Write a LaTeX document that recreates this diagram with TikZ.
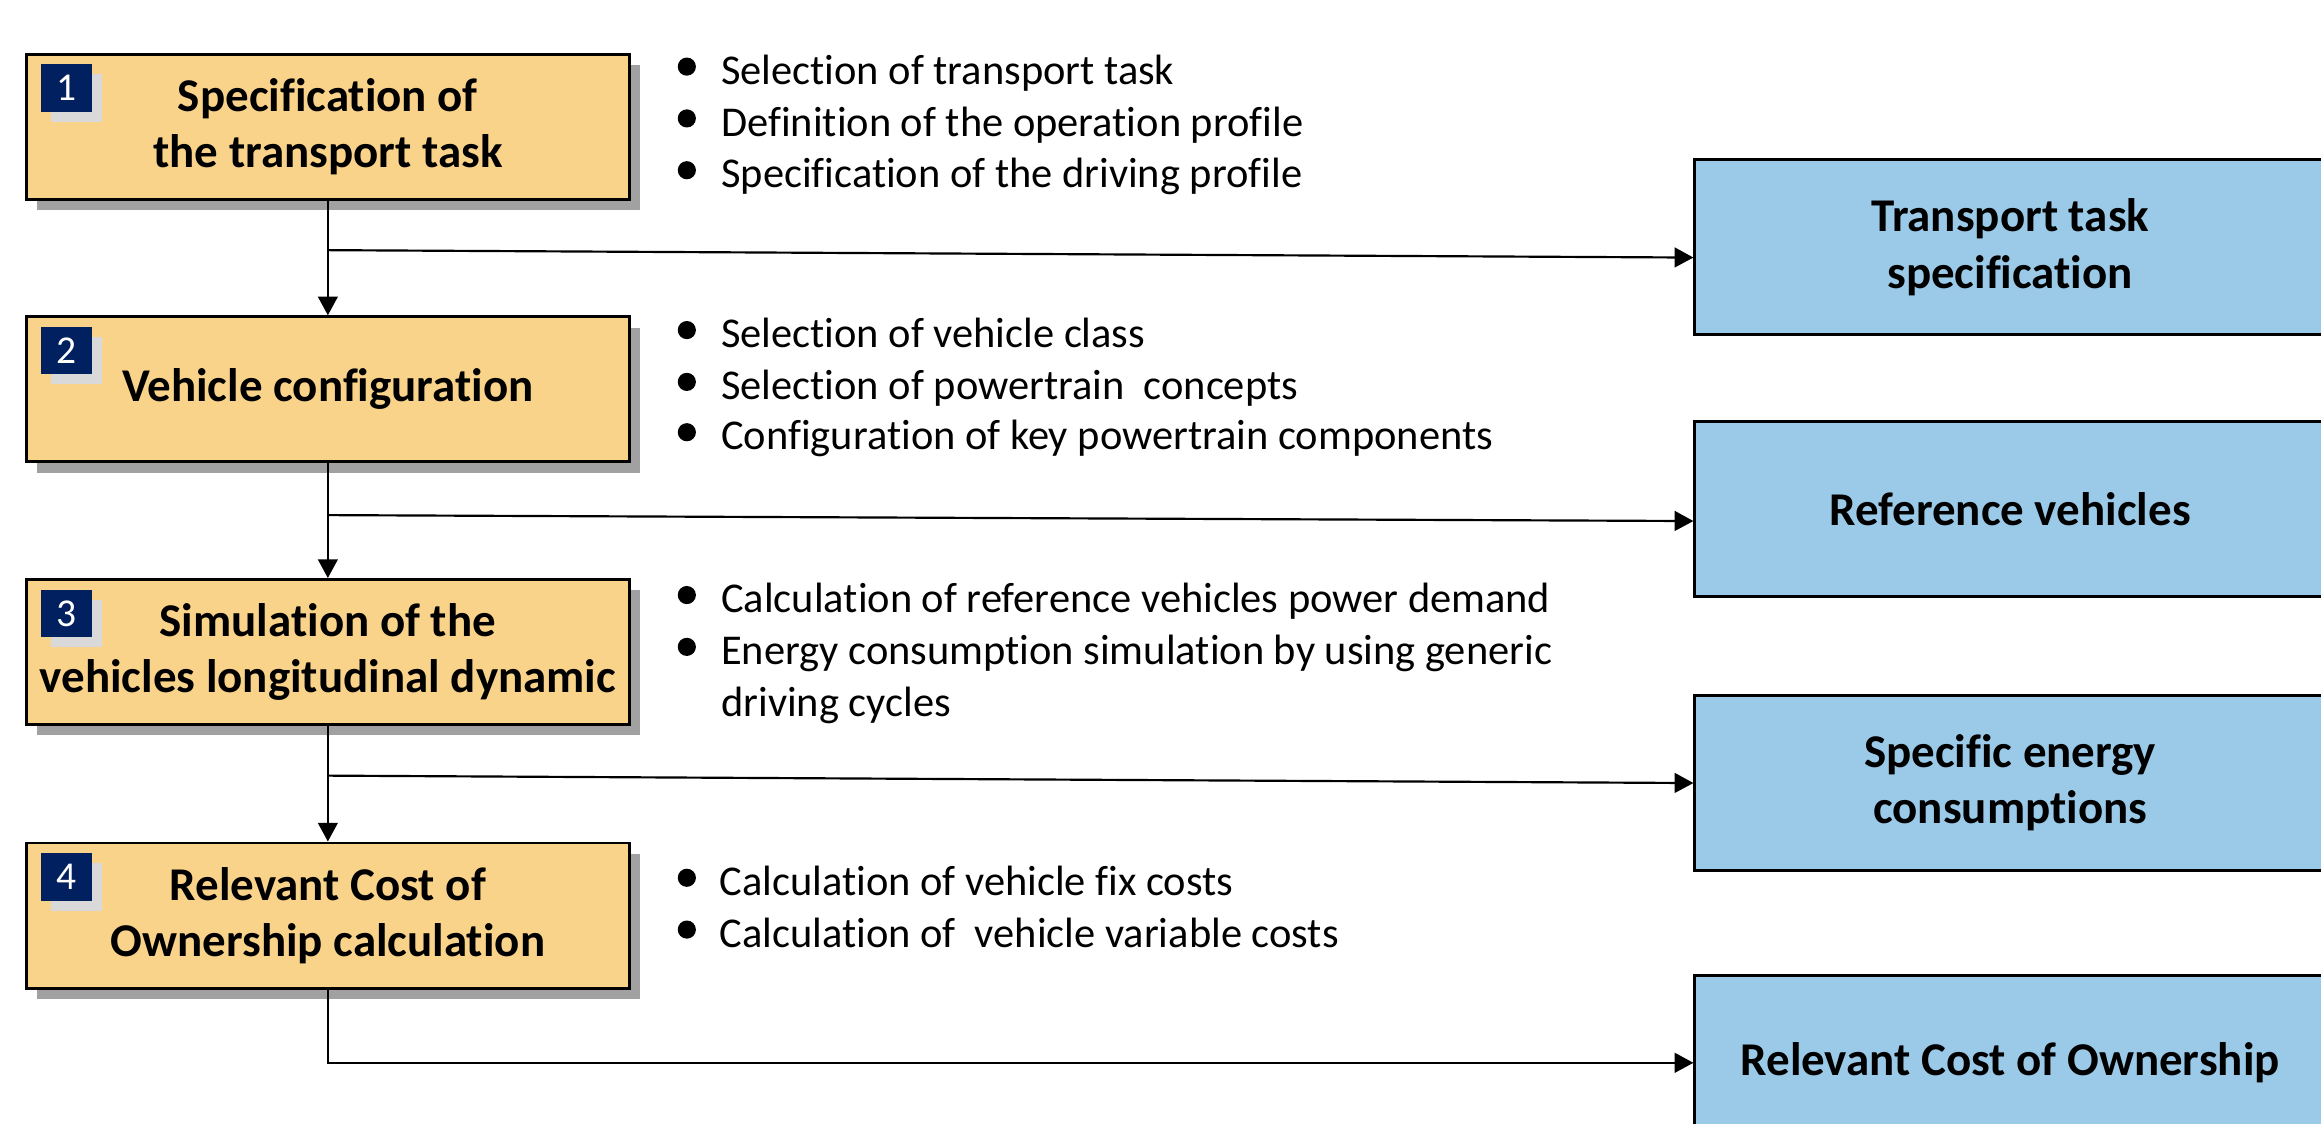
\documentclass[tikz,border=0pt]{standalone}
\usepackage{fontspec}
\setmainfont{Carlito}[Ligatures=NoCommon]
\usetikzlibrary{arrows.meta,shadows}
\definecolor{orangefill}{HTML}{FAD38A}
\definecolor{bluefill}{HTML}{9BCAE8}
\definecolor{navyfill}{HTML}{002060}
\begin{document}
\begin{tikzpicture}[x=0.75pt,y=-0.75pt,
  stepbox/.style={draw=black, line width=1.5pt, fill=orangefill,
    minimum width=305.25pt, minimum height=73.5pt, align=center, inner sep=0pt,
    font=\fontsize{23.8}{28.5}\selectfont\bfseries,
    drop shadow={shadow xshift=5.5pt, shadow yshift=-5.5pt, fill=black!37, opacity=1}},
  resbox/.style={draw=black, line width=1.5pt, fill=bluefill,
    minimum width=319.5pt, minimum height=88.5pt, align=center, inner sep=0pt,
    font=\fontsize{23.8}{28.5}\selectfont\bfseries},
  numbox/.style={fill=navyfill, text=white, minimum width=26pt, minimum height=24pt, inner sep=0pt,
    font=\fontsize{20}{20}\selectfont,
    drop shadow={shadow xshift=5pt, shadow yshift=-5pt, fill=black!15, opacity=1}},
  itemtext/.style={anchor=base west, inner sep=0pt, font=\fontsize{21.5}{26}\selectfont},
  conn/.style={draw=black, line width=1.1pt},
  arr/.style={conn, -{Triangle[length=9.5pt,width=10pt]}},
  bul/.style={fill=black}
]
\useasboundingbox (0,0) rectangle (1568,759);
\clip (0,0) rectangle (1568,759);

% process boxes
\node[stepbox] (b1) at (221.5,85.5) {Specification of\\the transport task};
\node[stepbox] (b2) at (221.5,263) {Vehicle configuration};
\node[stepbox] (b3) at (221.5,440.5) {Simulation of the\\vehicles longitudinal dynamic};
\node[stepbox] (b4) at (221.5,618.5) {Relevant Cost of\\Ownership calculation};

% number squares
\node[numbox] (n1) at (45,59.5) {1};
\node[numbox] (n2) at (45,237) {2};
\node[numbox] (n3) at (45,414.5) {3};
\node[numbox] (n4) at (45,592.5) {4};

% result boxes
\node[resbox] (rA) at (1358,167) {Transport task\\specification};
\node[resbox] (rB) at (1358,344) {Reference vehicles};
\node[resbox] (rC) at (1358,529) {Specific energy\\consumptions};
\node[resbox] (rD) at (1358,718) {Relevant Cost of Ownership};

% connectors
\coordinate (t1) at (222,169);
\coordinate (t2) at (222,348);
\coordinate (t3) at (222,524);
\draw[arr] (b1.south) -- (b2.north);
\draw[arr] (b2.south) -- (b3.north);
\draw[arr] (b3.south) -- (b4.north);
\draw[arr] (t1) -- ([yshift=-5.25pt]rA.west);
\draw[arr] (t2) -- ([yshift=-6pt]rB.west);
\draw[arr] (t3) -- (rC.west);
\draw[arr] (b4.south) |- (rD.west);

% bullet lists
\node[itemtext] (i11) at (487,57) {Selection of transport task};
\node[itemtext] (i12) at (487,92) {Definition of the operation profile};
\node[itemtext] (i13) at (487,127) {Specification of the driving profile};
\node[itemtext] (i21) at (487,235) {Selection of vehicle class};
\node[itemtext] (i22) at (487,270) {Selection of powertrain~ concepts};
\node[itemtext] (i23) at (487,304) {Configuration of key powertrain components};
\node[itemtext] (i31) at (487,414) {Calculation of reference vehicles power demand};
\node[itemtext] (i32) at (487,449) {Energy consumption simulation by using generic};
\node[itemtext] (i33) at (487,484) {driving cycles};
\node[itemtext] (i41) at (486,605) {Calculation of vehicle fix costs};
\node[itemtext] (i42) at (486,640) {Calculation of~ vehicle variable costs};

\foreach \yy in {45,80,115,223,258,292,402,437,593,628}
  \fill[bul] (464,\yy) circle[radius=4.6pt];
\end{tikzpicture}
\end{document}
